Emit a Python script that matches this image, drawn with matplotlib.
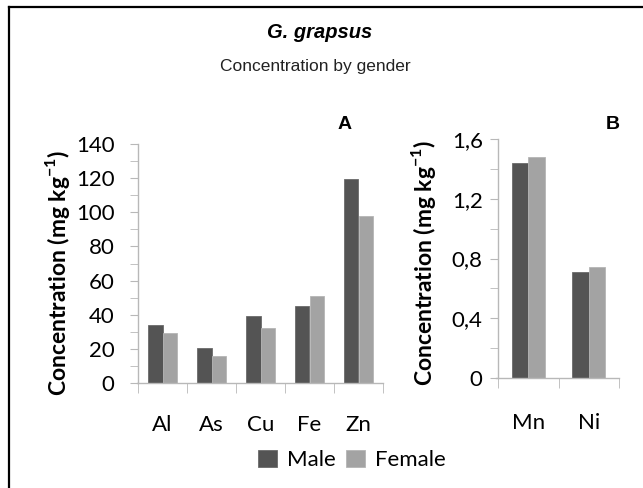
import numpy as np
import matplotlib; matplotlib.use("Agg")
import matplotlib.pyplot as plt
from matplotlib.lines import Line2D
from matplotlib.ticker import MultipleLocator, FixedLocator

# data
metals_a = ["Al", "As", "Cu", "Fe", "Zn"]
male_a = [34, 20.5, 39, 45, 119.5]
female_a = [29, 16, 32, 51, 98]
metals_b = ["Mn", "Ni"]
male_b = [1.44, 0.71]
female_b = [1.48, 0.74]
yticks_a = [0, 20, 40, 60, 80, 100, 120, 140]
yticks_b = [0, 0.4, 0.8, 1.2, 1.6]
yticklabels_b = ["0", "0,4", "0,8", "1,2", "1,6"]

MALE = "#545454"; FEMALE = "#a3a3a3"; AXC = "#b8b8b8"
plt.rcParams.update({"font.family": ["Lato", "DejaVu Sans"], "font.size": 16,
                     "mathtext.fontset": "custom", "mathtext.bf": "Lato:bold",
                     "mathtext.rm": "Lato"})
W, H = 643, 488
fig = plt.figure(figsize=(W/100, H/100), dpi=100)

def px_axes(x0, x1, ybot, ytop):
    return fig.add_axes([x0/W, 1-ybot/H, (x1-x0)/W, (ybot-ytop)/H])

def style(ax, n, ypad, xpad):
    for s in ("top", "right"): ax.spines[s].set_visible(False)
    for s in ("left", "bottom"): ax.spines[s].set_color(AXC); ax.spines[s].set_linewidth(1)
    ax.set_xlim(-0.5, n-0.5)
    ax.xaxis.set_minor_locator(FixedLocator(np.arange(-0.5, n, 1.0)))
    ax.tick_params(axis="x", which="major", length=0, pad=xpad, labelsize=16)
    ax.tick_params(axis="x", which="minor", length=7, color=AXC, direction="out")
    ax.tick_params(axis="y", which="both", length=6, color=AXC, direction="out", pad=ypad, labelsize=16)
    ax.spines["bottom"].set_bounds(-0.5 - 0.03, n-0.5)

# panel A
ax1 = px_axes(138, 383, 383, 144)
x = np.arange(len(metals_a)); bw = 0.29
ax1.bar(x-bw/2, male_a, bw, color=MALE, edgecolor="#6a6a6a", linewidth=0.6, label="Male")
ax1.bar(x+bw/2, female_a, bw, color=FEMALE, edgecolor="#b5b5b5", linewidth=0.6, label="Female")
ax1.set_ylim(0, 140)
ax1.set_yticks(yticks_a)
ax1.yaxis.set_minor_locator(MultipleLocator(10))
ax1.set_xticks(x, metals_a)
style(ax1, len(metals_a), 11, 23)

# panel B
ax2 = px_axes(498, 619, 378, 139)
xb = np.arange(len(metals_b)); bwb = 0.27
ax2.bar(xb-bwb/2, male_b, bwb, color=MALE, edgecolor="#6a6a6a", linewidth=0.6)
ax2.bar(xb+bwb/2, female_b, bwb, color=FEMALE, edgecolor="#b5b5b5", linewidth=0.6)
ax2.set_ylim(0, 1.6)
ax2.set_yticks(yticks_b, yticklabels_b)
ax2.yaxis.set_minor_locator(MultipleLocator(0.2))
ax2.set_xticks(xb, metals_b)
style(ax2, len(metals_b), 5, 25)

ylab = r"Concentration (mg kg$^{\mathbf{-1}}$)"
fig.text(57/W, 1-273/H, ylab, rotation=90, ha="center", va="center", fontsize=16.5, fontweight="bold")
fig.text(423/W, 1-263/H, ylab, rotation=90, ha="center", va="center", fontsize=16.5, fontweight="bold")

fig.text(320/W, 1-33/H, "G. grapsus", ha="center", va="center", fontsize=14.5,
         fontweight="bold", fontstyle="italic", family="Liberation Sans")
fig.text(315/W, 1-66/H, "Concentration by gender", ha="center", va="center", fontsize=12.5,
         family="Liberation Sans", color="#222222")
fig.text(345/W, 1-125/H, "A", ha="center", va="center", fontsize=14, fontweight="bold", family="Liberation Sans")
fig.text(613/W, 1-125/H, "B", ha="center", va="center", fontsize=14, fontweight="bold", family="Liberation Sans")

h, l = ax1.get_legend_handles_labels()
fig.legend(h, l, loc="center", bbox_to_anchor=(352/W, 1-460/H), ncol=2, frameon=False,
           handlelength=0.85, handleheight=0.85, handletextpad=0.45, columnspacing=0.45,
           borderpad=0, fontsize=16)

# frame lines (top and left)
fig.add_artist(Line2D([9/W, 1], [1-7/H, 1-7/H], color="black", lw=1.6, transform=fig.transFigure))
fig.add_artist(Line2D([9/W, 9/W], [0, 1-7/H], color="black", lw=1.6, transform=fig.transFigure))

fig.savefig("out.png", dpi=100)
